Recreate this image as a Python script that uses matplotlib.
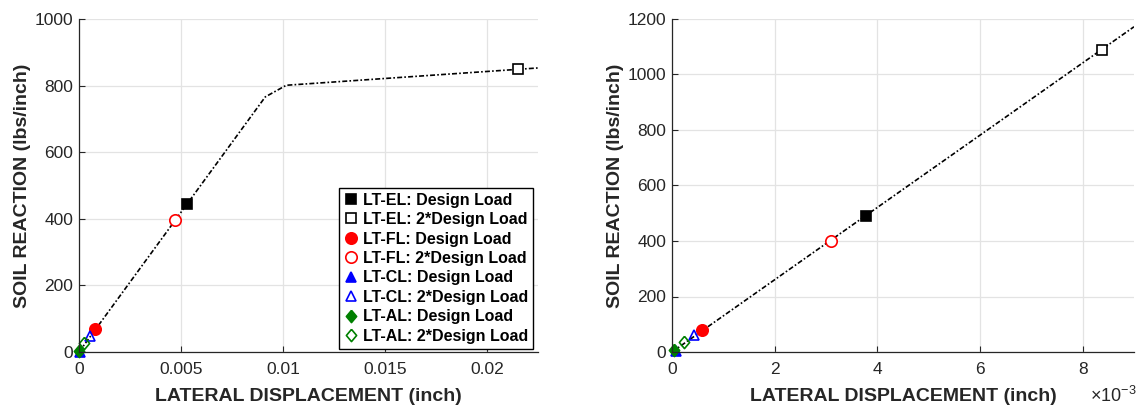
import matplotlib
matplotlib.use("Agg")
import matplotlib.pyplot as plt
from matplotlib.ticker import FuncFormatter, MultipleLocator

plt.rcParams['font.family'] = ['Liberation Sans', 'DejaVu Sans']
plt.rcParams['mathtext.fontset'] = 'custom'
plt.rcParams['mathtext.rm'] = 'Liberation Sans'
plt.rcParams['axes.unicode_minus'] = True

# series labels (same order in both panels)
labels = ['LT-EL: Design Load', 'LT-EL: 2*Design Load',
          'LT-FL: Design Load', 'LT-FL: 2*Design Load',
          'LT-CL: Design Load', 'LT-CL: 2*Design Load',
          'LT-AL: Design Load', 'LT-AL: 2*Design Load']

# left panel: measured points (inch, lbs/inch)
left_x = [0.0053, 0.0215, 0.00080, 0.00473, 0.00005, 0.00055, 0.00002, 0.00026]
left_y = [444, 849, 68, 396, 1, 47, 2, 26]
# left panel: p-y curve
curve_left_x = [0, 0.00913, 0.01016, 0.0225]
curve_left_y = [0, 766, 801, 853]

# right panel
right_x = [3.77e-3, 8.38e-3, 0.59e-3, 3.09e-3, 0.07e-3, 0.43e-3, 0.03e-3, 0.24e-3]
right_y = [490, 1088, 79, 401, 3, 60, 9, 35]
curve_right_x = [0, 9e-3]
curve_right_y = [0, 1172]

ink = '#262626'
diamond = [(0, 1), (0.84, 0), (0, -1), (-0.84, 0), (0, 1)]
styles = [
    dict(marker='s', ms=7, mfc='k', mec='k'),
    dict(marker='s', ms=7, mfc='white', mec='k'),
    dict(marker='o', ms=8.2, mfc='r', mec='r'),
    dict(marker='o', ms=8.2, mfc='white', mec='r'),
    dict(marker='^', ms=7.8, mfc='b', mec='b'),
    dict(marker='^', ms=7.8, mfc='none', mec='b'),
    dict(marker=diamond, ms=8.8, mfc='g', mec='g'),
    dict(marker=diamond, ms=8.8, mfc='none', mec='g'),
]
dashdot = (0, (3, 1.3, 1, 1.3))

fig = plt.figure(figsize=(11.36, 4.07), dpi=100)
W, H = 1136, 407
ax1 = fig.add_axes([79 / W, (H - 352) / H, 459 / W, 333 / H])
ax2 = fig.add_axes([672 / W, (H - 352) / H, 462 / W, 333 / H])


def style_axes(ax):
    for s in ['top', 'right']:
        ax.spines[s].set_visible(False)
    for s in ['left', 'bottom']:
        ax.spines[s].set_color(ink)
        ax.spines[s].set_linewidth(0.9)
    ax.grid(True, color='#e3e3e3', linewidth=0.9)
    ax.set_axisbelow(True)
    ax.tick_params(direction='in', length=4, width=0.8, color=ink,
                   labelcolor=ink, labelsize=12.5)
    ax.tick_params(axis='x', pad=7)
    ax.tick_params(axis='y', pad=4)
    ax.set_xlabel('LATERAL DISPLACEMENT (inch)', fontsize=14, fontweight='bold',
                  color=ink, labelpad=8)
    ax.set_ylabel('SOIL REACTION (lbs/inch)', fontsize=14, fontweight='bold',
                  color=ink, labelpad=3)


# left panel
ax1.plot(curve_left_x, curve_left_y, color='k', lw=1.2, ls=dashdot)
for x, y, lab, st in zip(left_x, left_y, labels, styles):
    ax1.plot([x], [y], ls='none', mew=1.2, label=lab, clip_on=False, **st)
ax1.set_xlim(0, 0.0225)
ax1.set_ylim(0, 1000)
ax1.xaxis.set_major_locator(MultipleLocator(0.005))
ax1.yaxis.set_major_locator(MultipleLocator(200))
ax1.xaxis.set_major_formatter(FuncFormatter(lambda v, p: '%g' % round(v, 6)))
style_axes(ax1)
leg = ax1.legend(loc='lower right', bbox_to_anchor=(0.99, 0.01), borderaxespad=0,
                 fancybox=False, framealpha=1, edgecolor='k',
                 prop=dict(weight='bold', size=11.5), handlelength=0.9,
                 handletextpad=0.3, labelspacing=0.28, borderpad=0.3)
leg.get_frame().set_linewidth(1.0)

# right panel
ax2.plot(curve_right_x, curve_right_y, color='k', lw=1.2, ls=dashdot)
for x, y, st in zip(right_x, right_y, styles):
    ax2.plot([x], [y], ls='none', mew=1.2, clip_on=False, **st)
ax2.set_xlim(0, 9e-3)
ax2.set_ylim(0, 1200)
ax2.xaxis.set_major_locator(MultipleLocator(2e-3))
ax2.yaxis.set_major_locator(MultipleLocator(200))
ax2.xaxis.set_major_formatter(FuncFormatter(lambda v, p: '%g' % round(v * 1e3, 6)))
style_axes(ax2)
ax2.text(0.904, -0.132, r'$\times10^{-3}$', transform=ax2.transAxes,
         ha='left', va='center', fontsize=13, color=ink)

fig.savefig('out.png', dpi=100)
